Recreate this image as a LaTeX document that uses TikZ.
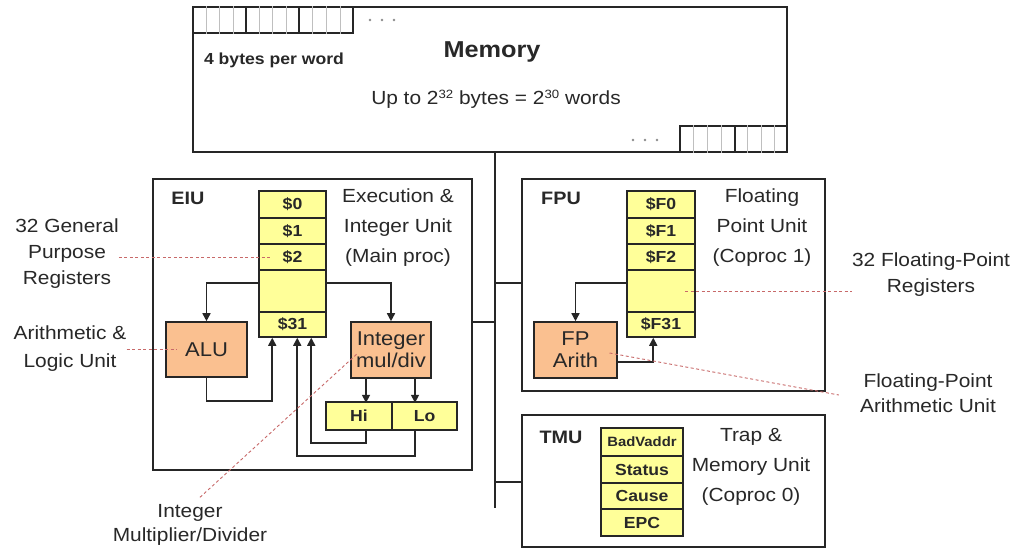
\documentclass[tikz,border=0pt]{standalone}
\usepackage{fontspec}
\setmainfont{Liberation Sans}[FakeStretch=1.1]
\usetikzlibrary{arrows.meta,calc}
\definecolor{regy}{RGB}{255,255,153}
\definecolor{orng}{RGB}{250,192,144}
\definecolor{leadc}{RGB}{200,105,105}
\definecolor{txt}{RGB}{40,40,40}
\newcommand{\myfs}[2]{\fontsize{#1}{#2}\selectfont}
\newcommand{\mysup}[1]{\raisebox{0.6ex}{\myfs{12}{12}#1}}
\begin{document}
\begin{tikzpicture}[x=1pt,y=-1pt,
 mybox/.style={draw=black!85,line width=1.8pt,inner sep=0pt},
 regcell/.style={draw=black!85,line width=1.5pt,fill=regy,inner sep=0pt,font=\myfs{16}{18}\bfseries,text=txt},
 unitbox/.style={draw=black!85,line width=1.6pt,fill=orng,inner sep=0pt,align=center,font=\myfs{20}{22},text=txt},
 desc/.style={align=center,font=\myfs{19}{30},text=txt,inner sep=0pt},
 lbl/.style={align=center,font=\myfs{19}{26},text=txt,inner sep=0pt},
 ttl/.style={font=\myfs{18}{20}\bfseries,text=txt,inner sep=0pt},
 arr/.style={draw=black!85,line width=1.6pt,-{Triangle[length=8pt,width=8pt]}},
 leader/.style={draw=leadc,line width=0.9pt,dash pattern=on 3pt off 2.5pt},
 bus/.style={draw=black!85,line width=2.4pt},
 memcell/.style={draw=black!85,line width=1.6pt,inner sep=0pt,minimum height=26},
]
\useasboundingbox (0,0) rectangle (1017,548);
\fill[white] (0,0) rectangle (1017,548);

% ---------- Memory ----------
\node[mybox,minimum width=594,minimum height=145] (mem) at (490,79.5) {};
\node[memcell,minimum width=53] (c1) at (219.5,20) {};
\node[memcell,minimum width=53] (c2) at (272.5,20) {};
\node[memcell,minimum width=54] (c3) at (326,20) {};
\node[memcell,minimum width=55] (c4) at (707.5,139) {};
\node[memcell,minimum width=52] (c5) at (761,139) {};
\foreach \c in {c1,c2,c3,c4,c5}
  \foreach \f in {0.25,0.5,0.75}
    \draw[black!25,line width=0.6pt] ($(\c.north west)!\f!(\c.north east)$) -- ($(\c.south west)!\f!(\c.south east)$);
\foreach \dx in {0,12,24} \fill[black!45] (370+\dx,20) circle (1.3pt);
\foreach \dx in {0,12,24} \fill[black!45] (633+\dx,140) circle (1.3pt);
\node[font=\myfs{16}{18}\bfseries,text=txt] (bpw) at (274,60) {4 bytes per word};
\node[font=\myfs{23}{26}\bfseries,text=txt] (memt) at (492,52) {Memory};
\node[font=\myfs{19}{22},text=txt] (upto) at (496,99) {Up to 2\mysup{32} bytes = 2\mysup{30} words};

% ---------- EIU ----------
\node[mybox,minimum width=319,minimum height=291] (eiu) at (312.5,324.5) {};
\node[ttl] (eiut) at (188,198) {EIU};
\node[regcell,minimum width=67,minimum height=27] (r0) at (292.5,204.5) {\$0};
\node[regcell,minimum width=67,minimum height=26] (r1) at (292.5,231) {\$1};
\node[regcell,minimum width=67,minimum height=26] (r2) at (292.5,257) {\$2};
\node[regcell,minimum width=67,minimum height=42] (rx) at (292.5,291) {};
\node[regcell,minimum width=67,minimum height=25] (r31) at (292.5,324.5) {\$31};
\node[desc] (eiud) at (398,228) {Execution \&\\Integer Unit\\(Main proc)};
\node[unitbox,minimum width=81,minimum height=55] (alu) at (206.5,349.5) {ALU};
\node[unitbox,minimum width=80,minimum height=56] (mul) at (391,350) {Integer\\mul/div};
\node[regcell,minimum width=66,minimum height=28] (hi) at (359,416) {Hi};
\node[regcell,minimum width=65,minimum height=28] (lo) at (424.5,416) {Lo};

\draw[arr] ([yshift=8pt]rx.west) -| (alu.north);
\draw[arr] ([yshift=8pt]rx.east) -| (mul.north);
\draw[arr] (alu.south) -- ++(0,23) -| ([xshift=14pt]r31.south west);
\draw[arr] ([xshift=-25pt]mul.south) -- ++(0,24);
\draw[arr] ([xshift=24pt]mul.south) -- ++(0,24);
\draw[arr] ([xshift=7pt]hi.south) -- ++(0,12) -| ([xshift=53pt]r31.south west);
\draw[arr] ([xshift=-9.5pt]lo.south) -- ++(0,25) -| ([xshift=39pt]r31.south west);

% ---------- FPU ----------
\node[mybox,minimum width=303,minimum height=212] (fpu) at (673.5,285) {};
\node[ttl] (fput) at (561,198) {FPU};
\node[regcell,minimum width=68,minimum height=27] (f0) at (661,204.5) {\$F0};
\node[regcell,minimum width=68,minimum height=26] (f1) at (661,231) {\$F1};
\node[regcell,minimum width=68,minimum height=26] (f2) at (661,257) {\$F2};
\node[regcell,minimum width=68,minimum height=42] (fx) at (661,291) {};
\node[regcell,minimum width=68,minimum height=25] (f31) at (661,324.5) {\$F31};
\node[desc] (fpud) at (762,228) {Floating\\Point Unit\\(Coproc 1)};
\node[unitbox,minimum width=83,minimum height=56] (fpa) at (575.5,350) {FP\\Arith};
\draw[arr] ([yshift=8pt]fx.west) -| (fpa.north);
\draw[arr] ([yshift=-12pt]fpa.east) -| ([xshift=27pt]f31.south west);

% ---------- TMU ----------
\node[mybox,minimum width=303,minimum height=132] (tmu) at (673.5,481) {};
\node[ttl] (tmut) at (561,437) {TMU};
\node[regcell,minimum width=82,minimum height=28,font=\myfs{13.5}{15}\bfseries] (tb) at (642,442) {BadVaddr};
\node[regcell,minimum width=82,minimum height=27] (ts) at (642,469.5) {Status};
\node[regcell,minimum width=82,minimum height=26] (tc) at (642,496) {Cause};
\node[regcell,minimum width=82,minimum height=27] (te) at (642,522.5) {EPC};
\node[desc] (tmud) at (751,467) {Trap \&\\Memory Unit\\(Coproc 0)};

% ---------- Bus ----------
\coordinate (btop) at ([xshift=5pt]mem.south);
\coordinate (bbot) at (495,508);
\draw[bus] (btop) -- (bbot);
\draw[bus] ([yshift=2.5pt]eiu.east) -- ++(23,0);
\draw[bus] ([yshift=2pt]fpu.west) -- ++(-27,0);
\draw[bus] ([yshift=-1pt]tmu.west) -- ++(-27,0);

% ---------- Side labels ----------
\node[lbl] (gpr) at (67,254) {32 General\\Purpose\\Registers};
\node[lbl,font=\myfs{19}{28}] (alul) at (70,349) {Arithmetic \&\\Logic Unit};
\node[lbl,font=\myfs{19}{24}] (imd) at (190,525) {Integer\\Multiplier/Divider};
\node[lbl] (fpr) at (931,275) {32 Floating-Point\\Registers};
\node[lbl,font=\myfs{19}{25}] (fpal) at (928,393) {Floating-Point\\Arithmetic Unit};

\draw[leader] (gpr.east |- r2.center) -- ([xshift=-20pt]r2.center);
\draw[leader] (alul.east |- alu.center) -- ([xshift=-30pt]alu.center);
\draw[leader] ([xshift=10pt,yshift=7pt]imd.north) -- ([xshift=-33pt,yshift=-3pt]mul.center);
\draw[leader] ([xshift=24pt]fx.center) -- (fpr.west |- fx.center);
\draw[leader] ([xshift=34pt,yshift=-3pt]fpa.center) -- ([xshift=-21pt,yshift=-2pt]fpal.west);
\end{tikzpicture}
\end{document}
